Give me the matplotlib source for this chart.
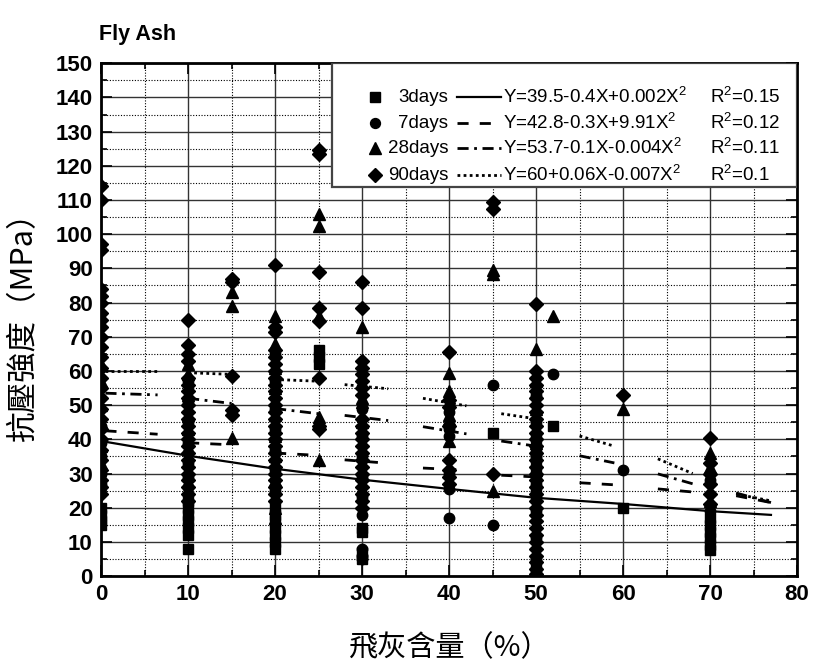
import matplotlib.pyplot as plt
from matplotlib.ticker import MultipleLocator
from matplotlib.patches import Rectangle

plt.rcParams['font.family'] = ['Liberation Sans', 'DejaVu Sans']
plt.rcParams['mathtext.default'] = 'regular'

# compressive strength (MPa), grouped by fly ash content (%)
days3 = {
    0: [20, 18, 16, 15],
    10: [8, 12, 14, 16, 18, 20, 22],
    20: [8, 10, 12, 14, 16, 18, 20],
    25: [66, 64, 62],
    30: [14, 13, 7, 5],
    45: [42],
    50: [40, 37, 34, 30, 24, 3, 1],
    52: [44],
    60: [20],
    70: [17, 15, 13, 11, 9, 7.5],
}
days7 = {
    0: [44, 39, 35, 30, 27],
    10: [57, 51, 45, 39, 36, 33, 29, 26],
    20: [65, 57, 49, 43, 37, 31, 25],
    30: [49, 41, 35, 29, 23, 18, 8, 6, 5],
    40: [48, 43, 41, 30, 25.5, 17],
    45: [56, 15],
    50: [53, 45, 35, 27, 19, 11, 5],
    52: [59],
    60: [31],
    70: [28, 19],
}
days28 = {
    0: [62, 57, 50, 45, 38, 33],
    10: [62, 59, 53, 47, 43],
    15: [83, 79, 40.5],
    20: [76, 68, 61, 55, 47, 41, 35, 28, 20, 17],
    25: [106, 102.5, 76, 46.5, 34],
    30: [73, 52, 51, 45],
    40: [59.5, 54, 47, 46, 39.5],
    45: [89.5, 88.5, 25],
    50: [66.5, 57, 49, 39, 31],
    52: [76],
    60: [49],
    70: [36, 34.5, 32, 22],
}
days90 = {
    0: [114, 110, 97, 95.5, 84, 82, 80, 77, 75, 73, 70, 67, 64, 61, 58, 55,
        52, 49, 46, 43, 40, 37, 34, 31, 28, 26, 24],
    10: [75, 67.5, 65, 63, 58, 56, 54, 52, 50, 48, 46, 44, 42, 40, 38, 36,
         34, 32, 30, 28, 26, 24, 22],
    15: [87, 86, 58.5, 48.5, 47],
    20: [91, 73, 71.5, 66, 64, 62, 60, 58, 56, 54, 52, 50, 48, 46, 44, 42,
         40, 38, 36, 34, 32, 30, 28, 26, 24, 22],
    25: [124.5, 123.5, 89, 78.5, 74.5, 58, 44, 43],
    30: [86, 78.5, 63, 61, 59, 57, 55, 53, 46, 44, 42, 40, 38, 36, 34, 32,
         30, 28, 26, 24, 22, 20],
    40: [65.5, 51.5, 49.5, 44, 34, 31, 29, 27],
    45: [109.5, 107.5, 30],
    50: [79.5, 60, 58, 56, 54, 52, 50, 48, 46, 44, 42, 40, 38, 36, 34, 32,
         30, 28, 26, 24, 22, 20, 18, 16, 14, 12, 10, 8, 6, 4, 2, 0.5],
    60: [53],
    70: [40.5, 33, 30, 27, 24, 21],
}

# regression curves as seen in the picture
fit3_x = [0, 10, 20, 30, 40, 50, 60, 70, 77]
fit3_y = [39.5, 35.2, 31.4, 28.2, 25.5, 22.9, 21.1, 19.0, 17.9]
seg_x = [(0.5, 6.5), (10, 15), (20, 25), (28, 33), (37, 42), (46, 50), (55, 59), (64, 68), (73, 77)]
fit7_y = [(42.5, 41.5), (39, 38.4), (36, 35.3), (34, 33), (31.6, 31), (29.5, 29), (27.3, 26.7), (25.5, 24.6), (23.5, 21.5)]
fit28_y = [(53.5, 53), (52, 50.5), (49, 47.5), (47, 45.5), (43.7, 41.6), (39.5, 38), (35.2, 33.1), (29.9, 27), (24.3, 21.5)]
fit90_y = [(60, 60), (59.5, 59), (57.5, 57), (56, 54.8), (52, 49.8), (47.5, 46), (41, 38), (34.3, 30), (24, 22)]

labels = ['3days', '7days', '28days', '90days']
equations = ['Y=39.5-0.4X+0.002X$^2$', 'Y=42.8-0.3X+9.91X$^2$',
             'Y=53.7-0.1X-0.004X$^2$', 'Y=60+0.06X-0.007X$^2$']
r2_text = ['R$^2$=0.15', 'R$^2$=0.12', 'R$^2$=0.11', 'R$^2$=0.1']

markers = ['s', 'o', '^', 'D']
msizes = [7, 7.5, 8.5, 7.5]
styles = ['-', (0, (4, 4)), (0, (4, 2, 1, 2)), (0, (1, 1.2))]

fig = plt.figure(figsize=(8.15, 6.66), dpi=100)
ax = fig.add_axes([0.124, 0.135, 0.854, 0.770])

for data, m, ms in zip([days3, days7, days28, days90], markers, msizes):
    xs = [x for x, ys in data.items() for _ in ys]
    ys = [y for x, ys in data.items() for y in ys]
    ax.plot(xs, ys, linestyle='none', marker=m, markersize=ms, color='black', zorder=3)

ax.plot(fit3_x, fit3_y, color='black', lw=1.6, zorder=4)
for yy, ls in zip([fit7_y, fit28_y, fit90_y], styles[1:]):
    for (x0, x1), (y0, y1) in zip(seg_x, yy):
        ax.plot([x0, x1], [y0, y1], color='black', lw=2, linestyle=ls, zorder=4)

ax.set_xlim(0, 80)
ax.set_ylim(0, 150)
ax.xaxis.set_major_locator(MultipleLocator(10))
ax.xaxis.set_minor_locator(MultipleLocator(5))
ax.yaxis.set_major_locator(MultipleLocator(10))
ax.yaxis.set_minor_locator(MultipleLocator(5))
ax.grid(which='major', color='#333333', lw=1.0, linestyle='-')
ax.grid(which='minor', color='black', lw=0.8, linestyle=(0, (1, 1.5)))
ax.set_axisbelow(True)
ax.tick_params(which='both', direction='in', top=True, right=True, width=1.2)
ax.tick_params(which='major', length=8, labelsize=16, pad=6)
ax.tick_params(which='minor', length=4)
for lab in ax.get_xticklabels() + ax.get_yticklabels():
    lab.set_fontweight('bold')
for sp in ax.spines.values():
    sp.set_linewidth(2)

# legend block
ax.add_patch(Rectangle((0.332, 0.758), 0.668, 0.242, transform=ax.transAxes,
                       facecolor='white', edgecolor='#444444', lw=1.6, zorder=5))
rows = [0.934, 0.883, 0.834, 0.782]
for i in range(4):
    yr = rows[i]
    ax.plot([0.394], [yr], marker=markers[i], markersize=msizes[i] * 0.95, color='black',
            transform=ax.transAxes, zorder=6, clip_on=False)
    ax.text(0.499, yr, labels[i], transform=ax.transAxes, ha='right', va='center',
            fontsize=13.5, zorder=6)
    ax.plot([0.512, 0.575], [yr, yr], color='black', lw=1.6 if i == 0 else 2,
            linestyle=styles[i], transform=ax.transAxes, zorder=6)
    ax.text(0.578, yr, equations[i], transform=ax.transAxes, ha='left', va='center',
            fontsize=13.5, zorder=6)
    ax.text(0.875, yr, r2_text[i], transform=ax.transAxes, ha='left', va='center',
            fontsize=13.5, zorder=6)

fig.text(0.121, 0.948, 'Fly Ash', fontsize=15.5, fontweight='bold', ha='left', va='center')
ax.set_xlabel('飛灰含量（%）', fontsize=21, labelpad=20, family=['Noto Sans CJK TC', 'DejaVu Sans'])
ax.set_ylabel('抗壓強度（MPa）', fontsize=22, labelpad=12, family=['Noto Sans CJK TC', 'DejaVu Sans'])

fig.savefig('out.png', dpi=100, facecolor='white')
